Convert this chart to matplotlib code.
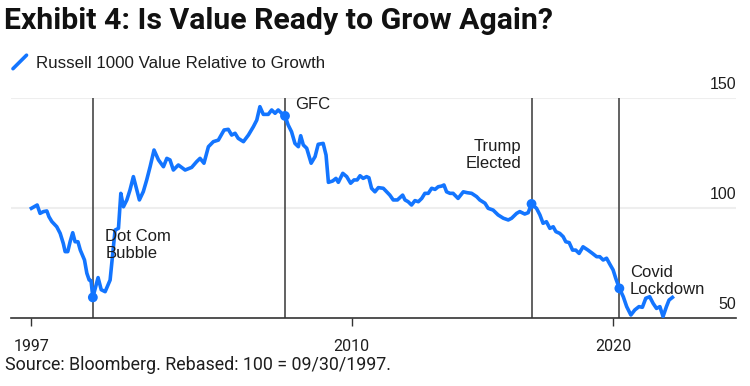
import numpy as np
import matplotlib
matplotlib.use("Agg")
import matplotlib.pyplot as plt
from matplotlib.lines import Line2D
from matplotlib.legend_handler import HandlerLine2D
from matplotlib.transforms import ScaledTranslation

# --- data ---
years = [
    1997.75, 1997.97, 1998.08, 1998.21, 1998.34, 1998.42, 1998.53, 1998.72, 1998.85, 1998.97,
    1999.04, 1999.14, 1999.23, 1999.33, 1999.42, 1999.53, 1999.62, 1999.78, 1999.87, 1999.96,
    2000.03, 2000.10, 2000.21, 2000.30, 2000.42, 2000.57, 2000.76, 2000.95, 2001.08, 2001.17,
    2001.27, 2001.40, 2001.52, 2001.65, 2001.78, 2001.88, 2002.03, 2002.16, 2002.29, 2002.44,
    2002.61, 2002.80, 2002.93, 2003.05, 2003.18, 2003.37, 2003.63, 2003.88, 2004.07, 2004.20,
    2004.35, 2004.52, 2004.71, 2004.90, 2005.12, 2005.28, 2005.41, 2005.54, 2005.66, 2005.86,
    2006.05, 2006.24, 2006.37, 2006.49, 2006.62, 2006.81, 2006.94, 2007.07, 2007.19, 2007.32,
    2007.45, 2007.57, 2007.70, 2007.83, 2007.96, 2008.05, 2008.15, 2008.28, 2008.45, 2008.60,
    2008.72, 2008.91, 2009.02, 2009.11, 2009.27, 2009.40, 2009.49, 2009.66, 2009.81, 2009.96,
    2010.09, 2010.21, 2010.32, 2010.44, 2010.57, 2010.66, 2010.76, 2010.89, 2011.02, 2011.21,
    2011.34, 2011.46, 2011.59, 2011.75, 2011.95, 2012.04, 2012.16, 2012.29, 2012.42, 2012.55,
    2012.68, 2012.80, 2012.93, 2013.06, 2013.19, 2013.31, 2013.44, 2013.53, 2013.63, 2013.76,
    2013.88, 2014.07, 2014.27, 2014.42, 2014.59, 2014.78, 2014.90, 2015.10, 2015.22, 2015.41,
    2015.60, 2015.80, 2015.99, 2016.12, 2016.31, 2016.43, 2016.62, 2016.75, 2016.88, 2017.07,
    2017.20, 2017.32, 2017.45, 2017.58, 2017.71, 2017.81, 2017.96, 2018.09, 2018.19, 2018.32,
    2018.45, 2018.57, 2018.70, 2018.85, 2019.04, 2019.21, 2019.37, 2019.49, 2019.62, 2019.75,
    2019.87, 2020.00, 2020.10, 2020.24, 2020.39, 2020.52, 2020.68, 2020.83, 2020.99, 2021.12,
    2021.25, 2021.40, 2021.53, 2021.66, 2021.79, 2021.91, 2022.04, 2022.14, 2022.27,
]
values = [
    100.0, 101.5, 97.7, 98.5, 98.8, 96.2, 94.0, 91.6, 88.6, 84.0,
    80.3, 80.3, 84.8, 88.9, 84.8, 84.8, 81.0, 76.5, 70.5, 67.4,
    67.1, 59.5, 64.4, 68.5, 63.0, 62.1, 67.4, 90.1, 90.9, 106.8,
    100.7, 103.8, 108.3, 114.4, 108.3, 103.8, 107.6, 112.9, 118.9, 126.5,
    122.0, 118.9, 122.7, 122.0, 117.4, 119.7, 117.4, 118.6, 121.2, 122.7,
    120.5, 128.0, 130.3, 131.0, 135.6, 135.9, 133.3, 134.1, 131.8, 130.3,
    133.3, 137.1, 140.1, 146.2, 142.7, 142.7, 144.7, 143.2, 144.7, 143.2,
    142.0, 137.9, 134.8, 129.5, 128.0, 133.0, 128.8, 127.3, 120.5, 123.5,
    129.1, 129.5, 124.2, 111.8, 112.4, 113.6, 111.8, 115.9, 114.4, 111.4,
    112.9, 112.9, 114.8, 113.6, 114.4, 113.9, 109.1, 107.5, 109.4, 109.1,
    107.5, 106.0, 103.8, 103.8, 106.0, 103.8, 103.0, 101.5, 103.5, 103.0,
    104.5, 106.8, 106.8, 109.1, 108.6, 109.8, 110.1, 110.6, 107.5, 106.8,
    106.8, 104.5, 107.5, 107.1, 106.8, 105.3, 103.8, 102.3, 100.0, 99.2,
    97.0, 95.5, 94.7, 95.5, 97.7, 98.5, 97.4, 98.0, 102.0, 100.0,
    97.0, 93.2, 93.9, 90.9, 91.6, 89.4, 88.6, 87.1, 84.8, 84.4,
    81.0, 81.0, 79.5, 82.5, 81.0, 79.5, 78.0, 78.0, 76.5, 77.3,
    74.7, 72.0, 68.2, 63.6, 59.8, 55.3, 51.5, 53.8, 55.3, 55.0,
    59.1, 59.8, 56.8, 54.5, 55.3, 50.8, 55.3, 58.3, 59.5,
]

event_dates = [2000.10, 2007.45, 2016.88, 2020.24]
event_labels = ["Dot Com\nBubble", "GFC", "Trump\nElected", "Covid\nLockdown"]

xtick_pos = [1997.75, 2010, 2020]
xtick_labels = ["1997", "2010", "2020"]
yticks = [50, 100, 150]

title = "Exhibit 4: Is Value Ready to Grow Again?"
series_name = "Russell 1000 Value Relative to Growth"
source = "Source: Bloomberg. Rebased: 100 = 09/30/1997."

blue = "#1375ff"
ink = "#1e1e1e"


class DiagHandler(HandlerLine2D):
    # legend swatch drawn as a short diagonal stroke
    def create_artists(self, legend, orig_handle, xdescent, ydescent,
                       width, height, fontsize, trans):
        ln = Line2D([-xdescent, -xdescent + width], [-ydescent, -ydescent + height],
                    color=orig_handle.get_color(), lw=2.6, solid_capstyle="round")
        ln.set_transform(trans)
        return [ln]


fig = plt.figure(figsize=(7.5, 3.86), dpi=100)
ax = fig.add_axes([0.0147, 0.1754, 0.9666, 0.5699])

line, = ax.plot(years, values, color=blue, lw=2.6, solid_joinstyle="round", zorder=3)

ev_y = np.interp(event_dates, years, values)
for d in event_dates:
    ax.axvline(d, color="#555555", lw=1.3, zorder=2)
ax.scatter(event_dates, ev_y, s=50, color=blue, zorder=4, edgecolors="none")

ax.set_xlim(1996.97, 2024.7)
ax.set_ylim(50, 150)

# gridlines
for v in yticks[1:]:
    ax.axhline(v, color="#eeeeee", lw=1.5, zorder=1)

for s in ["top", "left", "right"]:
    ax.spines[s].set_visible(False)
ax.spines["bottom"].set_color("#333333")
ax.spines["bottom"].set_linewidth(1.2)

ax.set_xticks(xtick_pos)
ax.set_xticklabels(xtick_labels, fontsize=11.5, color=ink, family="Roboto")
ax.tick_params(axis="x", length=6, width=1, color="#333333", pad=9)

ax.yaxis.tick_right()
ax.set_yticks(yticks)
ax.set_yticklabels([str(v) for v in yticks], fontsize=11.5, color=ink,
                   family="Liberation Sans")
ax.tick_params(axis="y", length=0, pad=0)
for lab in ax.get_yticklabels():
    lab.set_horizontalalignment("right")
    lab.set_transform(lab.get_transform() + ScaledTranslation(0, 15 / 100, fig.dpi_scale_trans))

# event annotations
ann_kw = dict(fontsize=12, color=ink, family="Liberation Sans", linespacing=1.15)
ax.text(2000.57, 90.6, event_labels[0], ha="left", va="top", **ann_kw)
ax.text(2007.85, 147.2, event_labels[1], ha="left", va="center", **ann_kw)
ax.text(2016.5, 124.2, event_labels[2], ha="right", va="center", **ann_kw)
ax.text(2020.65, 66.8, event_labels[3], ha="left", va="center", **ann_kw)

fig.text(0.006, 1 - 21 / 386, title, fontsize=21.8, fontweight="bold", family="Roboto",
         color="#111111", va="center", ha="left")

fig.legend([line], [series_name], handler_map={Line2D: DiagHandler()},
           loc="center left", bbox_to_anchor=(0.006, 1 - 63 / 386), frameon=False,
           handlelength=0.8, handleheight=0.85, handletextpad=0.55, borderpad=0,
           prop={"family": "Liberation Sans", "size": 12.2}, labelcolor=ink)

fig.text(0.007, 1 - 365 / 386, source, fontsize=12.9, color=ink,
         family="Roboto", va="center", ha="left")

fig.savefig("out.png", dpi=100, facecolor="white")
